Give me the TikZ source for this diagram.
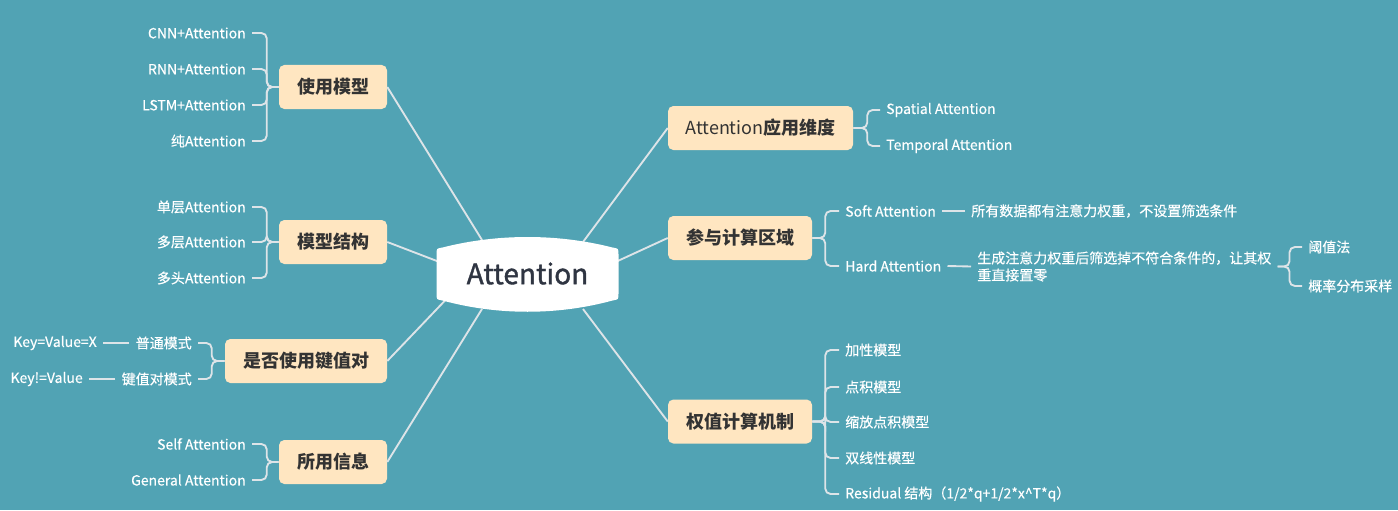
\documentclass[tikz,border=0pt]{standalone}
\usepackage{fontspec}
\setmainfont{Noto Sans CJK SC}
\usetikzlibrary{calc}
\definecolor{bg}{HTML}{51A3B4}
\definecolor{peach}{HTML}{FFE6C1}
\definecolor{ln}{HTML}{DDE4E8}
\definecolor{tt}{HTML}{333333}
\definecolor{ct}{HTML}{2F3542}
\begin{document}
\begin{tikzpicture}[x=0.75pt,y=-0.75pt,
  topic/.style={fill=peach, rounded corners=4pt, minimum height=33pt, font=\fontsize{13.5}{16}\selectfont\bfseries, text=tt, inner sep=0pt},
  leafL/.style={anchor=east, text=white, font=\fontsize{10.5}{12.75}\selectfont\addfontfeature{FakeBold=0.4}, inner xsep=4.5pt, inner ysep=0pt},
  leafR/.style={anchor=west, text=white, font=\fontsize{10.5}{12.75}\selectfont\addfontfeature{FakeBold=0.4}, inner xsep=4.5pt, inner ysep=0pt, align=left},
  br/.style={draw=ln, line width=1.4pt, rounded corners=4pt},
  link/.style={draw=ln, line width=1.4pt}]
\fill[bg] (0,0) rectangle (1398,510);
\useasboundingbox (0,0) rectangle (1398,510);

% topics
\node[topic, minimum width=81pt] (t1) at (333,87) {使用模型};
\node[topic, minimum width=81pt] (t2) at (333,242) {模型结构};
\node[topic, minimum width=121.5pt] (t3) at (306,361) {是否使用键值对};
\node[topic, minimum width=81pt] (t4) at (333,462) {所用信息};
\node[topic, minimum width=138.75pt] (r1) at (760.5,128) {{\mdseries Attention}应用维度};
\node[topic, minimum width=108pt] (r2) at (740,238) {参与计算区域};
\node[topic, minimum width=108pt] (r3) at (740,421.5) {权值计算机制};

% central
\coordinate (c) at (527.5,273.5);
\draw[link] ($(c)+(-45.5,-33.5)$) -- (t1.east);
\draw[link] ($(c)+(-88,-11.5)$) -- (t2.east);
\draw[link] ($(c)+(-82,26.5)$) -- (t3.east);
\draw[link] ($(c)+(-45.5,35.5)$) -- (t4.east);
\draw[link] ($(c)+(55.5,-31.5)$) -- (r1.west);
\draw[link] ($(c)+(88,-11.5)$) -- (r2.west);
\draw[link] ($(c)+(55.5,35.5)$) -- (r3.west);
\fill[white] ($(c)+(-91,-19)$) .. controls ($(c)+(-91,-25)$) .. ($(c)+(-85,-26)$)
  .. controls ($(c)+(-30,-40)$) and ($(c)+(30,-40)$) .. ($(c)+(85,-26)$)
  .. controls ($(c)+(91,-25)$) .. ($(c)+(91,-19)$) -- ($(c)+(91,20)$)
  .. controls ($(c)+(91,26)$) .. ($(c)+(85,27)$)
  .. controls ($(c)+(30,42)$) and ($(c)+(-30,42)$) .. ($(c)+(-85,27)$)
  .. controls ($(c)+(-91,26)$) .. ($(c)+(-91,20)$) -- cycle;
\node[font=\fontsize{21}{24}\selectfont\addfontfeature{FakeBold=1.3}, text=ct] (cn) at (c) {Attention};

% 使用模型
\node[leafL] (a1) at (252,33) {CNN+Attention};
\node[leafL] (a2) at (252,69) {RNN+Attention};
\node[leafL] (a3) at (252,105) {LSTM+Attention};
\node[leafL] (a4) at (252,141) {纯Attention};
\foreach \n in {a1,a2,a3,a4} \draw[br] (t1.west) -- ++(-12,0) |- (\n.east);

% 模型结构
\node[leafL] (b1) at (252,207) {单层Attention};
\node[leafL] (b2) at (252,242) {多层Attention};
\node[leafL] (b3) at (252,278) {多头Attention};
\foreach \n in {b1,b2,b3} \draw[br] (t2.west) -- ++(-12,0) |- (\n.east);

% 是否使用键值对
\node[leafL] (k1) at (198,343) {普通模式};
\node[leafL] (k2) at (198,379) {键值对模式};
\foreach \n in {k1,k2} \draw[br] (t3.west) -- ++(-13,0) |- (\n.east);
\node[leafL] (kv1) at (103,343) {Key=Value=X};
\node[leafL] (kv2) at (89,379) {Key!=Value};
\draw[link] (k1.west) -- (kv1.east);
\draw[link] (k2.west) -- (kv2.east);

% 所用信息
\node[leafL] (d1) at (252,444) {Self Attention};
\node[leafL] (d2) at (252,480) {General Attention};
\foreach \n in {d1,d2} \draw[br] (t4.west) -- ++(-12,0) |- (\n.east);

% Attention应用维度
\node[leafR] (e1) at (880,110) {Spatial Attention};
\node[leafR] (e2) at (880,146) {Temporal Attention};
\foreach \n in {e1,e2} \draw[br] (r1.east) -- ++(14,0) |- (\n.west);

% 参与计算区域
\node[leafR] (f1) at (839,211) {Soft Attention};
\node[leafR] (f2) at (839,266) {Hard Attention};
\foreach \n in {f1,f2} \draw[br] (r2.east) -- ++(13,0) |- (\n.west);
\node[leafR] (f1d) at (965,211) {所有数据都有注意力权重，不设置筛选条件};
\node[leafR] (f2d) at (971,266.5) {生成注意力权重后筛选掉不符合条件的，让其权\\重直接置零};
\draw[link] (f1.east) -- (f1d.west);
\draw[link] (f2.east) -- (f2d.west);
\node[leafR] (g1) at (1302,247) {阈值法};
\node[leafR] (g2) at (1302,286) {概率分布采样};
\foreach \n in {g1,g2} \draw[br] (f2d.east) -- ++(12,0) |- (\n.west);

% 权值计算机制
\node[leafR] (h1) at (839,350) {加性模型};
\node[leafR] (h2) at (839,387) {点积模型};
\node[leafR] (h3) at (839,422) {缩放点积模型};
\node[leafR] (h4) at (839,458) {双线性模型};
\node[leafR] (h5) at (839,494) {Residual 结构（1/2*q+1/2*x\textasciicircum T*q）};
\foreach \n in {h1,h2,h3,h4,h5} \draw[br] (r3.east) -- ++(13,0) |- (\n.west);
\end{tikzpicture}
\end{document}
